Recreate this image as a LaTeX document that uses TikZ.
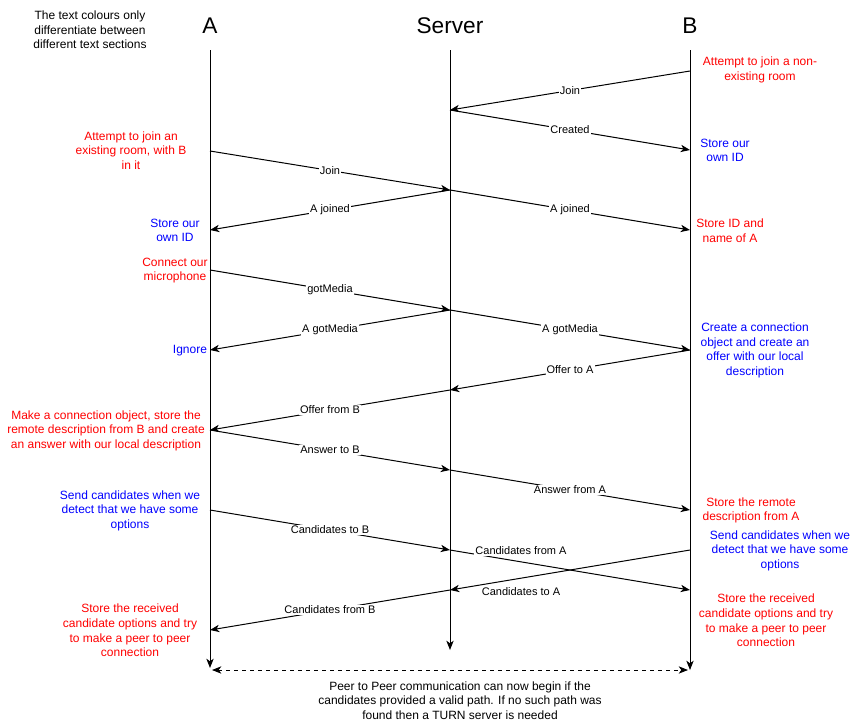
\documentclass[tikz,border=0pt]{standalone}
\usepackage{fontspec}
\setmainfont{Liberation Sans}
\usetikzlibrary{arrows.meta}
\definecolor{txtred}{HTML}{FF0000}
\definecolor{txtblue}{HTML}{0000FF}
\tikzset{
  tip/.style={-{Stealth[length=7pt,width=5.5pt,inset=2pt]}},
  msg/.style={tip, line width=0.75pt},
  life/.style={tip, line width=0.75pt},
  lbl/.style={fill=white, inner sep=0.8pt, font=\fontsize{8.25}{9.5}\selectfont, text=black},
  side/.style={align=center, inner sep=0pt, font=\fontsize{9}{10.9}\selectfont},
  redtxt/.style={side, text=txtred},
  bluetxt/.style={side, text=txtblue},
  head/.style={font=\fontsize{17}{20}\selectfont, inner sep=0pt},
}
\begin{document}
\begin{tikzpicture}[x=0.75pt, y=-0.75pt]
\useasboundingbox (0,0) rectangle (861,722);

% headers
\node[head] (hA) at (210,26) {A};
\node[head] (hS) at (450,26) {Server};
\node[head] (hB) at (690,26) {B};

% lifelines
\coordinate (Atop) at (210,50); \coordinate (Abot) at (210,668);
\coordinate (Stop) at (450,50); \coordinate (Sbot) at (450,650);
\coordinate (Btop) at (690,50); \coordinate (Bbot) at (690,670);
\draw[life] (Atop) -- (Abot);
\draw[life] (Stop) -- (Sbot);
\draw[life] (Btop) -- (Bbot);

% message points
\coordinate (b1) at (690,71);  \coordinate (s1) at (450,110);
\coordinate (b2) at (690,150);
\coordinate (a3) at (210,151); \coordinate (s3) at (450,190);
\coordinate (a4) at (210,230); \coordinate (b4) at (690,230);
\coordinate (a6) at (210,270); \coordinate (s6) at (450,310);
\coordinate (a7) at (210,350); \coordinate (b7) at (690,350);
\coordinate (s9) at (450,390);
\coordinate (a10) at (210,430);
\coordinate (s11) at (450,470);
\coordinate (b12) at (690,510);
\coordinate (a13) at (210,510); \coordinate (s13) at (450,550);
\coordinate (b14) at (690,590);
\coordinate (b15) at (690,550); \coordinate (s15) at (450,590);
\coordinate (a16) at (210,630);

% messages
\draw[msg] (b1) -- node[lbl] (l1) {Join} (s1);
\draw[msg] (s1) -- node[lbl] (l2) {Created} (b2);
\draw[msg] (a3) -- node[lbl] (l3) {Join} (s3);
\draw[msg] (s3) -- node[lbl] (l4) {A joined} (a4);
\draw[msg] (s3) -- node[lbl] (l5) {A joined} (b4);
\draw[msg] (a6) -- node[lbl] (l6) {gotMedia} (s6);
\draw[msg] (s6) -- node[lbl] (l7) {A gotMedia} (a7);
\draw[msg] (s6) -- node[lbl] (l8) {A gotMedia} (b7);
\draw[msg] (b7) -- node[lbl] (l9) {Offer to A} (s9);
\draw[msg] (s9) -- node[lbl] (l10) {Offer from B} (a10);
\draw[msg] (a10) -- node[lbl] (l11) {Answer to B} (s11);
\draw[msg] (s11) -- node[lbl] (l12) {Answer from A} (b12);
\draw[msg] (a13) -- node[lbl] (l13) {Candidates to B} (s13);
\draw[msg] (s13) -- (b14);
\draw[msg] (b15) -- (s15);
\node[lbl] (l14) at (521,551) {Candidates from A};
\node[lbl] (l15) at (521,592) {Candidates to A};
\draw[msg] (s15) -- node[lbl] (l16) {Candidates from B} (a16);

% final dashed
\coordinate (pA) at (212,670); \coordinate (pB) at (688,670);
\draw[line width=0.75pt, dash pattern=on 3pt off 3pt, {Stealth[length=7pt,width=5.5pt,inset=2pt]}-{Stealth[length=7pt,width=5.5pt,inset=2pt]}] (pA) -- (pB);

% side texts
\node[side] (note) at (90,30) {The text colours only\\differentiate between\\different text sections};
\node[redtxt] (t1) at (760,70) {Attempt to join a non-\\existing room};
\node[bluetxt] (t2) at (725,150.5) {Store our\\own ID};
\node[redtxt] (t3) at (730,230.5) {Store ID and\\name of A};
\node[redtxt] (t4) at (131,150.5) {Attempt to join an\\existing room, with B\\in it};
\node[bluetxt] (t5) at (175,230.5) {Store our\\own ID};
\node[redtxt] (t6) at (175,270.5) {Connect our\\microphone};
\node[bluetxt] (t7) at (190,351) {Ignore};
\node[bluetxt] (t8) at (755,350.5) {Create a connection\\object and create an\\offer with our local\\description};
\node[redtxt] (t9) at (106,430.5) {Make a connection object, store the\\remote description from B and create\\an answer with our local description};
\node[bluetxt] (t10) at (130,510.5) {Send candidates when we\\detect that we have some\\options};
\node[redtxt] (t11) at (751,510.5) {Store the remote\\description from A};
\node[bluetxt] (t12) at (780,550.5) {Send candidates when we\\detect that we have some\\options};
\node[redtxt] (t13) at (766,620.5) {Store the received\\candidate options and try\\to make a peer to peer\\connection};
\node[redtxt] (t14) at (130,630.5) {Store the received\\candidate options and try\\to make a peer to peer\\connection};
\node[side] (t15) at (460,700.5) {Peer to Peer communication can now begin if the\\candidates provided a valid path. If no such path was\\found then a TURN server is needed};
\end{tikzpicture}
\end{document}
